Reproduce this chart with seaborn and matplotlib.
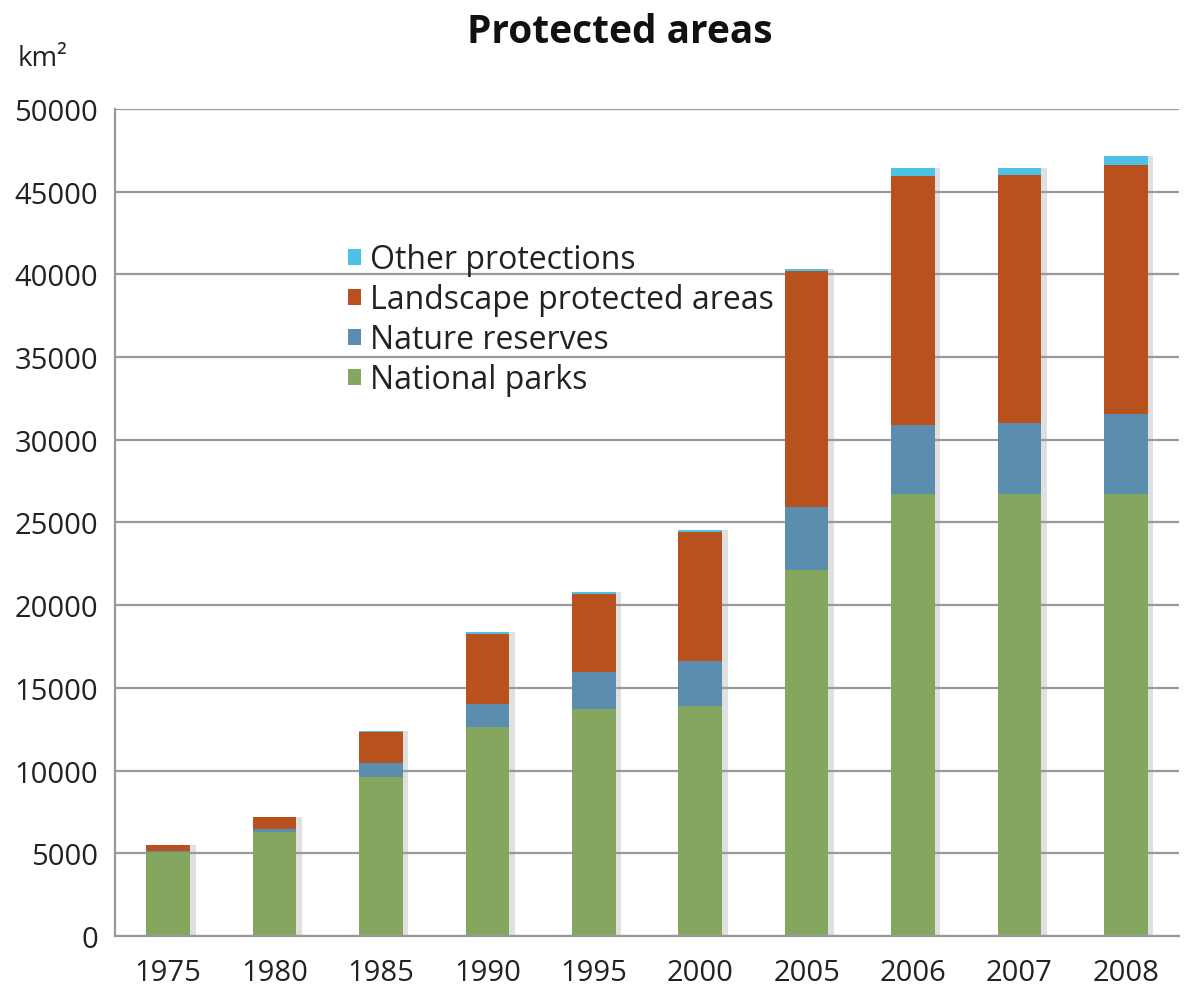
import matplotlib
matplotlib.use("Agg")
import matplotlib.pyplot as plt
import matplotlib.patheffects as pe
from matplotlib.patches import Patch
import numpy as np
import seaborn as sns

years = ["1975", "1980", "1985", "1990", "1995", "2000", "2005", "2006", "2007", "2008"]
national_parks = [5100, 6280, 9600, 12630, 13720, 13900, 22110, 26710, 26710, 26710]
nature_reserves = [50, 200, 850, 1390, 2230, 2720, 3810, 4170, 4290, 4830]
landscape_areas = [350, 710, 1880, 4230, 4710, 7780, 14260, 15040, 14980, 15050]
other_protections = [0, 0, 50, 100, 150, 130, 150, 480, 420, 540]

series_names = ["National parks", "Nature reserves", "Landscape protected areas", "Other protections"]
series_values = [national_parks, nature_reserves, landscape_areas, other_protections]
series_colors = ["#84A65E", "#5A8DAE", "#B9511F", "#4EC1E6"]
yticks = [0, 5000, 10000, 15000, 20000, 25000, 30000, 35000, 40000, 45000, 50000]

sns.set_theme(style="white")
plt.rcParams["font.family"] = ["Open Sans", "DejaVu Sans"]
text_color = "#222222"

fig = plt.figure(figsize=(11.85, 9.87), dpi=100)
ax = fig.add_axes([0.097, 0.0507, 0.898, 0.838])

# soft shadow behind each full stacked column
totals = np.sum(np.array(series_values), axis=0)
sns.barplot(x=years, y=totals, color="white", width=0.41, saturation=1,
            ax=ax, zorder=2, linewidth=0)
shadow = [pe.SimplePatchShadow(offset=(4, 0), shadow_rgbFace="#999999", alpha=0.3), pe.Normal()]
for p in ax.patches:
    p.set_path_effects(shadow)

bottom = np.zeros(len(years))
for name, vals, col in zip(series_names, series_values, series_colors):
    sns.barplot(x=years, y=vals, bottom=bottom, color=col, width=0.41,
                saturation=1, ax=ax, zorder=3, linewidth=0)
    bottom = bottom + np.array(vals)

ax.set_xlim(-0.5, len(years) - 0.5)
ax.set_ylim(0, 50000)
ax.set_yticks(yticks)
ax.set_yticklabels([str(v) for v in yticks], fontsize=21, color=text_color)
ax.yaxis.grid(True, color="#9a9a9a", linewidth=1.6, zorder=0)
ax.set_axisbelow(True)

# category ticks sit on the boundaries between the bars
ax.set_xticks(np.arange(len(years)))
ax.set_xticklabels(years, fontsize=21, color=text_color)
ax.set_xticks(np.arange(len(years) + 1) - 0.5, minor=True)
ax.tick_params(axis="x", which="major", length=0, pad=16)
ax.tick_params(axis="x", which="minor", length=6, width=1.4, color="#9a9a9a", direction="out")
ax.tick_params(axis="y", which="major", length=6, width=1.4, color="#9a9a9a", pad=6)
ax.set_xlabel("")
ax.set_ylabel("")

for side in ["top", "right"]:
    ax.spines[side].set_visible(False)
for side in ["left", "bottom"]:
    ax.spines[side].set_color("#9a9a9a")
    ax.spines[side].set_linewidth(1.6)
    ax.spines[side].set_zorder(4)

handles = [Patch(facecolor=c, edgecolor="none") for c in series_colors[::-1]]
leg = ax.legend(handles, series_names[::-1], loc="upper left", bbox_to_anchor=(0.207, 0.853),
                frameon=False, fontsize=23, handlelength=0.4, handleheight=0.4,
                handletextpad=0.3, labelspacing=0.22, borderaxespad=0)
for t in leg.get_texts():
    t.set_color(text_color)

fig.text(0.523, 0.967, "Protected areas", ha="center", va="center", fontsize=28,
         fontweight="bold", color="#111111")
fig.text(0.015, 0.94, "km²", ha="left", va="center", fontsize=20, color=text_color)

fig.savefig("out.png", dpi=100)
